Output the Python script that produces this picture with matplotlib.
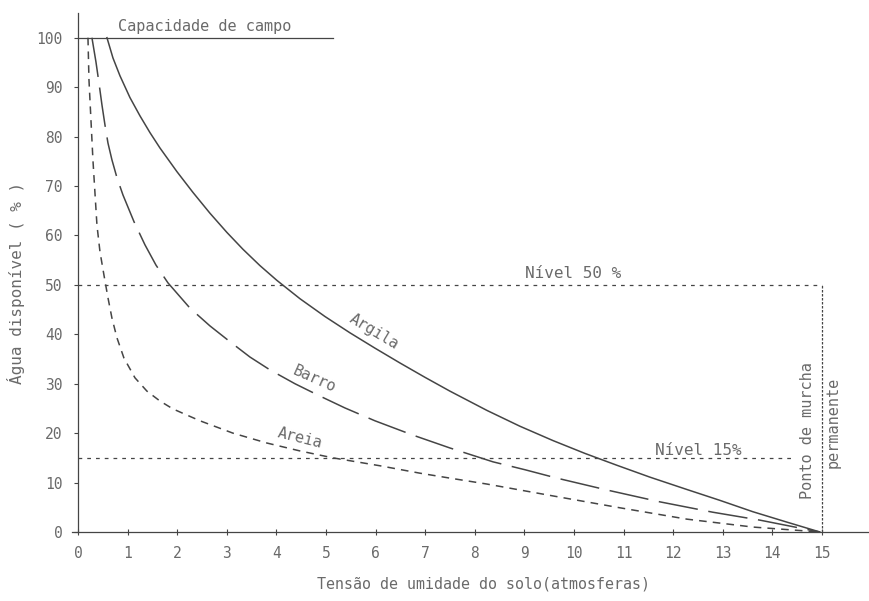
import numpy as np
import matplotlib
matplotlib.use('Agg')
import matplotlib.pyplot as plt

# curvas de agua disponivel (%) x tensao (atm)
argila_x = [0.585, 0.706, 0.847, 1.048, 1.250, 1.452, 1.653, 1.996, 2.319, 2.661,
            3.004, 3.327, 3.669, 4.012, 4.476, 4.980, 5.484, 5.988, 6.492, 6.996,
            7.500, 8.246, 8.911, 9.577, 10.222, 10.867, 11.532, 12.278, 12.944,
            13.609, 14.294, 14.960]
argila_y = [100, 95.9, 92.3, 87.9, 84.2, 80.8, 77.7, 72.9, 68.7, 64.5,
            60.6, 57.2, 53.9, 50.9, 47.2, 43.6, 40.3, 37.2, 34.2, 31.3,
            28.5, 24.6, 21.4, 18.5, 15.9, 13.5, 11.1, 8.6, 6.4,
            4.1, 2.0, 0]

barro_x = [0.282, 0.363, 0.423, 0.484, 0.544, 0.605, 0.685, 0.786, 0.907, 1.129,
           1.351, 1.573, 1.815, 2.258, 2.661, 3.065, 3.468, 3.871, 4.375, 4.879,
           5.383, 5.988, 6.754, 7.500, 8.367, 9.012, 9.657, 10.665, 11.734,
           12.802, 13.750, 14.355, 14.960]
barro_y = [100, 95.1, 90.9, 86.4, 82.4, 78.7, 75.3, 71.7, 68.2, 62.8,
           58.1, 54.0, 50.4, 45.3, 41.7, 38.5, 35.4, 32.8, 30.0, 27.5,
           25.1, 22.5, 19.6, 17.0, 14.2, 12.6, 10.9, 8.5, 6.1,
           4.0, 2.4, 1.2, 0]

areia_x = [0.202, 0.222, 0.262, 0.302, 0.343, 0.383, 0.444, 0.524, 0.605, 0.685,
           0.786, 0.927, 1.149, 1.391, 1.653, 1.915, 2.460, 3.125, 3.810, 4.476,
           5.141, 6.089, 6.895, 7.500, 8.246, 9.577, 10.927, 12.278, 13.609, 14.960]
areia_y = [100, 91.5, 83.4, 75.3, 68.6, 62.1, 56.7, 52.0, 47.4, 43.3,
           39.3, 35.2, 31.2, 28.5, 26.5, 24.9, 22.5, 20.0, 18.0, 16.4,
           15.0, 13.4, 11.9, 10.9, 9.7, 7.3, 4.9, 2.6, 1.0, 0]

x_ticks = list(range(0, 16))
y_ticks = list(range(0, 101, 10))

cor_txt = '#6a6a6a'
cor_lin = '#454545'
fonte = ['DejaVu Sans Mono', 'DejaVu Sans']

plt.rcParams['font.family'] = fonte

fig = plt.figure(figsize=(8.69, 6.01), dpi=100)
ax = fig.add_axes([72/869, 1 - 532/601, 797/869, 519/601])
ax.set_xlim(-0.12, 15.95)
ax.set_ylim(0, 105)

# curvas
ax.plot(argila_x, argila_y, '-', color=cor_lin, lw=1.1)
ax.plot(barro_x, barro_y, color=cor_lin, lw=1.1, dashes=(26, 7))
ax.plot(areia_x, areia_y, color=cor_lin, lw=1.1, dashes=(5, 4))

# linhas de referencia
ax.plot([0, 5.14], [100, 100], '-', color=cor_lin, lw=0.9)
ax.plot([0, 15], [50, 50], color=cor_lin, lw=0.9, dashes=(3, 4))
ax.plot([0, 14.4], [15, 15], color=cor_lin, lw=0.9, dashes=(3, 4))
ax.plot([15, 15], [0, 50], color=cor_lin, lw=0.9, dashes=(2, 1.2))

# textos
ax.text(2.56, 102.2, 'Capacidade de campo', color=cor_txt, fontsize=11, ha='center', va='center')
ax.text(9.98, 52.3, 'Nível 50 %', color=cor_txt, fontsize=11.5, ha='center', va='center')
ax.text(12.5, 16.4, 'Nível 15%', color=cor_txt, fontsize=11.5, ha='center', va='center')
ax.text(14.70, 20.6, 'Ponto de murcha', color=cor_txt, fontsize=11, rotation=90,
        ha='center', va='center')
ax.text(15.22, 22.1, 'permanente', color=cor_txt, fontsize=11, rotation=90,
        ha='center', va='center')
ax.text(5.98, 40.6, 'Argila', color=cor_txt, fontsize=11, rotation=-31,
        ha='center', va='center')
ax.text(4.76, 31.0, 'Barro', color=cor_txt, fontsize=11, rotation=-24,
        ha='center', va='center')
ax.text(4.48, 18.9, 'Areia', color=cor_txt, fontsize=11, rotation=-14,
        ha='center', va='center')

# eixos
for s in ['top', 'right']:
    ax.spines[s].set_visible(False)
ax.spines['left'].set_position(('data', 0))
ax.spines['left'].set_color(cor_lin)
ax.spines['bottom'].set_color(cor_lin)
ax.spines['left'].set_linewidth(0.9)
ax.spines['bottom'].set_linewidth(0.9)

ax.set_xticks(x_ticks)
ax.set_yticks(y_ticks)
ax.tick_params(axis='x', direction='inout', length=4, pad=8, colors=cor_lin,
               labelcolor=cor_txt, labelsize=10.5)
ax.tick_params(axis='y', direction='out', length=3, pad=8, colors=cor_lin,
               labelcolor=cor_txt, labelsize=10.5)

ax.set_xlabel('Tensão de umidade do solo(atmosferas)', color=cor_txt, fontsize=10.8)
ax.set_ylabel('Água disponível ( % )', color=cor_txt, fontsize=11.5)
ax.xaxis.set_label_coords(0.516, -0.085)
ax.yaxis.set_label_coords(-0.059, 0.48)

fig.savefig('out.png', dpi=100, facecolor='white')
